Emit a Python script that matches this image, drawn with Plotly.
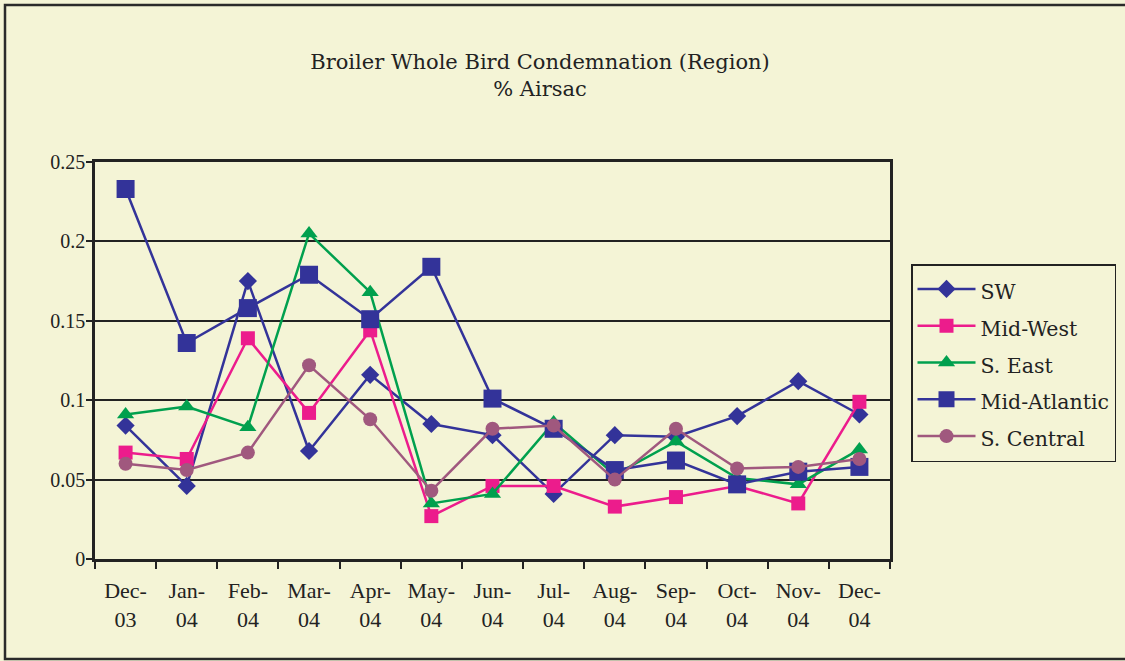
import plotly.graph_objects as go

months = ["Dec-03", "Jan-04", "Feb-04", "Mar-04", "Apr-04", "May-04", "Jun-04",
          "Jul-04", "Aug-04", "Sep-04", "Oct-04", "Nov-04", "Dec-04"]
tick_text = ["Dec-<br>03", "Jan-<br>04", "Feb-<br>04", "Mar-<br>04", "Apr-<br>04", "May-<br>04",
             "Jun-<br>04", "Jul-<br>04", "Aug-<br>04", "Sep-<br>04", "Oct-<br>04", "Nov-<br>04", "Dec-<br>04"]

sw = [0.084, 0.046, 0.175, 0.068, 0.116, 0.085, 0.078, 0.041, 0.078, 0.077, 0.090, 0.112, 0.091]
mid_west = [0.067, 0.063, 0.139, 0.092, 0.144, 0.027, 0.046, 0.046, 0.033, 0.039, 0.046, 0.035, 0.099]
s_east = [0.091, 0.096, 0.083, 0.205, 0.168, 0.035, 0.041, 0.086, 0.053, 0.074, 0.051, 0.047, 0.069]
mid_atlantic = [0.233, 0.136, 0.158, 0.179, 0.151, 0.184, 0.101, 0.082, 0.056, 0.062, 0.047, 0.055, 0.058]
s_central = [0.060, 0.056, 0.067, 0.122, 0.088, 0.043, 0.082, 0.084, 0.050, 0.082, 0.057, 0.058, 0.063]

series = [
    ("SW", sw, "#333399", "diamond", 14),
    ("Mid-West", mid_west, "#EC1C8C", "square", 14),
    ("S. East", s_east, "#00A04E", "triangle-up", 15),
    ("Mid-Atlantic", mid_atlantic, "#333399", "square", 18),
    ("S. Central", s_central, "#A0587E", "circle", 14),
]

bg = "#F4F4D6"
serif = "Liberation Serif, serif"
wide_serif = "DejaVu Serif, serif"

fig = go.Figure()
for name, vals, color, sym, size in series:
    fig.add_trace(go.Scatter(
        x=months, y=vals, name='<span style="font-size:20.5px">' + name + '</span>',
        mode="lines+markers",
        line=dict(color=color, width=2.5),
        marker=dict(symbol=sym, size=size, color=color, line=dict(width=0)),
    ))

L, R, T, B = 95, 235, 162, 102
W, H = 1125, 661
pw, ph = W - L - R, H - T - B

fig.update_layout(
    width=W, height=H,
    margin=dict(l=L, r=R, t=T, b=B, autoexpand=False),
    paper_bgcolor=bg, plot_bgcolor=bg,
    font=dict(family=serif, size=20, color="#222222"),
    title=dict(text="Broiler Whole Bird Condemnation (Region)<br>% Airsac",
               x=540 / W, xanchor="center", y=1 - 69 / H, yanchor="top",
               font=dict(size=21, family=wide_serif, color="#222222")),
    showlegend=True,
    legend=dict(x=(911 - L) / pw, y=(H - B - 264) / ph, xanchor="left", yanchor="top",
                bgcolor=bg, bordercolor="#222222", borderwidth=1.5,
                font=dict(size=26, family=wide_serif, color="#222222"),
                tracegroupgap=0, itemwidth=58),
    xaxis=dict(type="category", range=[-0.5, 12.5], tickvals=months, ticktext=tick_text,
               showline=True, linecolor="#222222", linewidth=2.5, mirror=True,
               ticks="outside", tickson="boundaries", ticklen=7, tickcolor="#222222",
               tickwidth=2, showgrid=False, tickangle=0, automargin=False,
               ticklabelstandoff=10,
               tickfont=dict(size=22, family=serif)),
    yaxis=dict(range=[0, 0.25], tickvals=[0, 0.05, 0.1, 0.15, 0.2, 0.25],
               ticktext=["0", "0.05", "0.1", "0.15", "0.2", "0.25"],
               showline=True, linecolor="#222222", linewidth=2.5, mirror=True,
               ticks="outside", ticklen=6, tickcolor="#222222", tickwidth=2,
               showgrid=True, gridcolor="#222222", gridwidth=2, zeroline=False,
               automargin=False, ticklabelstandoff=-3,
               tickfont=dict(size=20, family=serif)),
)

fig.add_shape(type="rect", xref="paper", yref="paper",
              x0=(5 - L) / pw, x1=(1128 - L) / pw,
              y0=(H - B - 659) / ph, y1=(H - B - 5) / ph,
              line=dict(color="#2a2a2a", width=2.5), fillcolor="rgba(0,0,0,0)", layer="below")

fig.write_html("out.html", config={"displayModeBar": False},
               post_script="document.body.style.margin='0px';")
